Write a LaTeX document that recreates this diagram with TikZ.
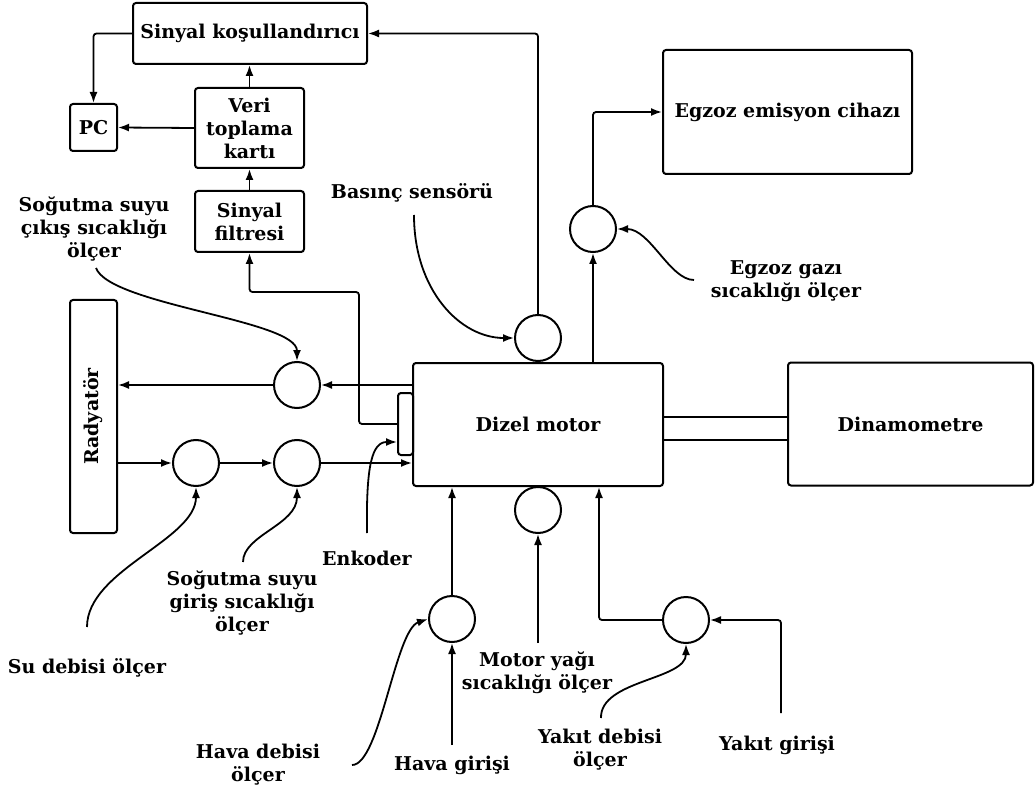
\documentclass[tikz,border=0pt]{standalone}
\usepackage{fontspec}
\setmainfont{DejaVu Serif}
\usetikzlibrary{arrows.meta,positioning}
\tikzset{
  kutu/.style={draw,rounded corners=3pt,line width=2pt,align=center,inner sep=0pt,
               font=\fontsize{19}{23}\selectfont\bfseries},
  olcer/.style={draw,circle,line width=2pt,minimum size=46pt,inner sep=0pt},
  yazi/.style={align=center,inner sep=0pt,font=\fontsize{19}{23}\selectfont\bfseries},
  ok/.style={-{Latex[length=11pt,width=8pt]},line width=1.8pt},
  mil/.style={line width=2pt}
}
\begin{document}
\begin{tikzpicture}[x=1pt,y=-1pt]
\useasboundingbox (0,0) rectangle (1035,791);
% kutular
\node[kutu,minimum width=234pt,minimum height=61pt](kosul)at(250,33.5){Sinyal koşullandırıcı};
\node[kutu,minimum width=47pt,minimum height=47pt](pc)at(93.5,127.5){PC};
\node[kutu,minimum width=109pt,minimum height=80pt](veri)at(249.5,128){Veri\\toplama\\kartı};
\node[kutu,minimum width=109pt,minimum height=61pt](filtre)at(249.5,221.5){Sinyal\\filtresi};
\node[kutu,minimum width=249pt,minimum height=124pt](egzoz)at(787.5,112){Egzoz emisyon cihazı};
\node[kutu,minimum width=250pt,minimum height=123pt](motor)at(538,424.5){Dizel motor};
\node[kutu,minimum width=15pt,minimum height=62pt](enc)at(405.5,424){};
\node[kutu,minimum width=245pt,minimum height=123pt](dyno)at(910.5,424){Dinamometre};
\node[kutu,minimum width=47pt,minimum height=233pt](rad)at(93.5,416.5){};
\node[yazi,rotate=90](radYazi)at(rad){Radyatör};
% olcerler
\node[olcer](cOut)at(297,385){};
\node[olcer](cIn1)at(196,463){};
\node[olcer](cIn2)at(297,463){};
\node[olcer](cBas)at(538,338){};
\node[olcer](cEgz)at(593,229){};
\node[olcer](cOil)at(538,510){};
\node[olcer](cAir)at(452,619){};
\node[olcer](cFuel)at(686,620){};
% etiketler
\node[yazi](lCikis)at(94,229){Soğutma suyu\\çıkış sıcaklığı\\ölçer};
\node[yazi](lBas)at(412,193){Basınç sensörü};
\node[yazi](lEgz)at(786,281){Egzoz gazı\\sıcaklığı ölçer};
\node[yazi](lEnk)at(367,558){Enkoder};
\node[yazi](lGiris)at(242,603){Soğutma suyu\\giriş sıcaklığı\\ölçer};
\node[yazi](lSu)at(87,668){Su debisi ölçer};
\node[yazi](lHavaD)at(258,765){Hava debisi\\ölçer};
\node[yazi](lHava)at(452,765){Hava girişi};
\node[yazi](lYag)at(537,673){Motor yağı\\sıcaklığı ölçer};
\node[yazi](lYakD)at(600,750){Yakıt debisi\\ölçer};
\node[yazi](lYak)at(777,745){Yakıt girişi};
% serbest uclar
\coordinate(cikS)at(96,268);
\coordinate(basS)at(414,215);
\coordinate(egzS)at(694,280);
\coordinate(enkS)at(367,533);
\coordinate(girS)at(243,562);
\coordinate(suS)at(87,627);
\coordinate(havaDS)at(352,765);
\coordinate(havaS)at(452,745);
\coordinate(yagS)at(538,643);
\coordinate(yakDS)at(601,718);
\coordinate(yakS)at(781,713);
\coordinate(donus)at(359,292);
% sinyal hatlari
\draw[ok,rounded corners=3pt](kosul.west)-|(pc.north);
\draw[ok](veri.north)--(veri.north|-kosul.south);
\draw[ok](veri.west)--(pc.east);
\draw[ok](filtre.north)--(filtre.north|-veri.south);
\draw[ok,rounded corners=3pt](enc.west)-|(donus)-|(filtre.south);
\draw[ok,rounded corners=3pt](cBas.north)|-(kosul.east);
% akislar
\draw[ok](motor.north-|cEgz)--(cEgz.south);
\draw[ok,rounded corners=3pt](cEgz.north)|-(egzoz.west);
\draw[ok](motor.west|-cOut)--(cOut.east);
\draw[ok](cOut.west)--(cOut-|rad.east);
\draw[ok](rad.east|-cIn1)--(cIn1.west);
\draw[ok](cIn1.east)--(cIn2.west);
\draw[ok](cIn2.east)--(cIn2-|motor.west);
\draw[mil]([yshift=7.5pt]motor.east)--([yshift=7.5pt]motor.east-|dyno.west);
\draw[mil]([yshift=-15.5pt]motor.east)--([yshift=-15.5pt]motor.east-|dyno.west);
\draw[ok](cAir.north)--(cAir|-motor.south);
\draw[ok](havaS)--(cAir.south);
\draw[ok](yagS)--(cOil.south);
\draw[ok,rounded corners=3pt](cFuel.west)-|([xshift=61pt]motor.south);
\draw[ok,rounded corners=3pt](yakS)|-(cFuel.east);
% sensor egrileri
\draw[ok](cikS).. controls(110,305)and(297,320)..(cOut.north);
\draw[ok](basS).. controls(414,290)and(460,338)..(cBas.west);
\draw[ok](egzS).. controls(670,280)and(650,229)..(cEgz.east);
\draw[ok](enkS).. controls(366,465)and(372,442)..([yshift=-18pt]enc.west);
\draw[ok](girS).. controls(243,535)and(297,525)..(cIn2.south);
\draw[ok](suS).. controls(87,570)and(196,540)..(cIn1.south);
\draw[ok](havaDS).. controls(380,765)and(395,630)..(cAir.west);
\draw[ok](yakDS).. controls(600,680)and(686,680)..(cFuel.south);
\end{tikzpicture}
\end{document}
